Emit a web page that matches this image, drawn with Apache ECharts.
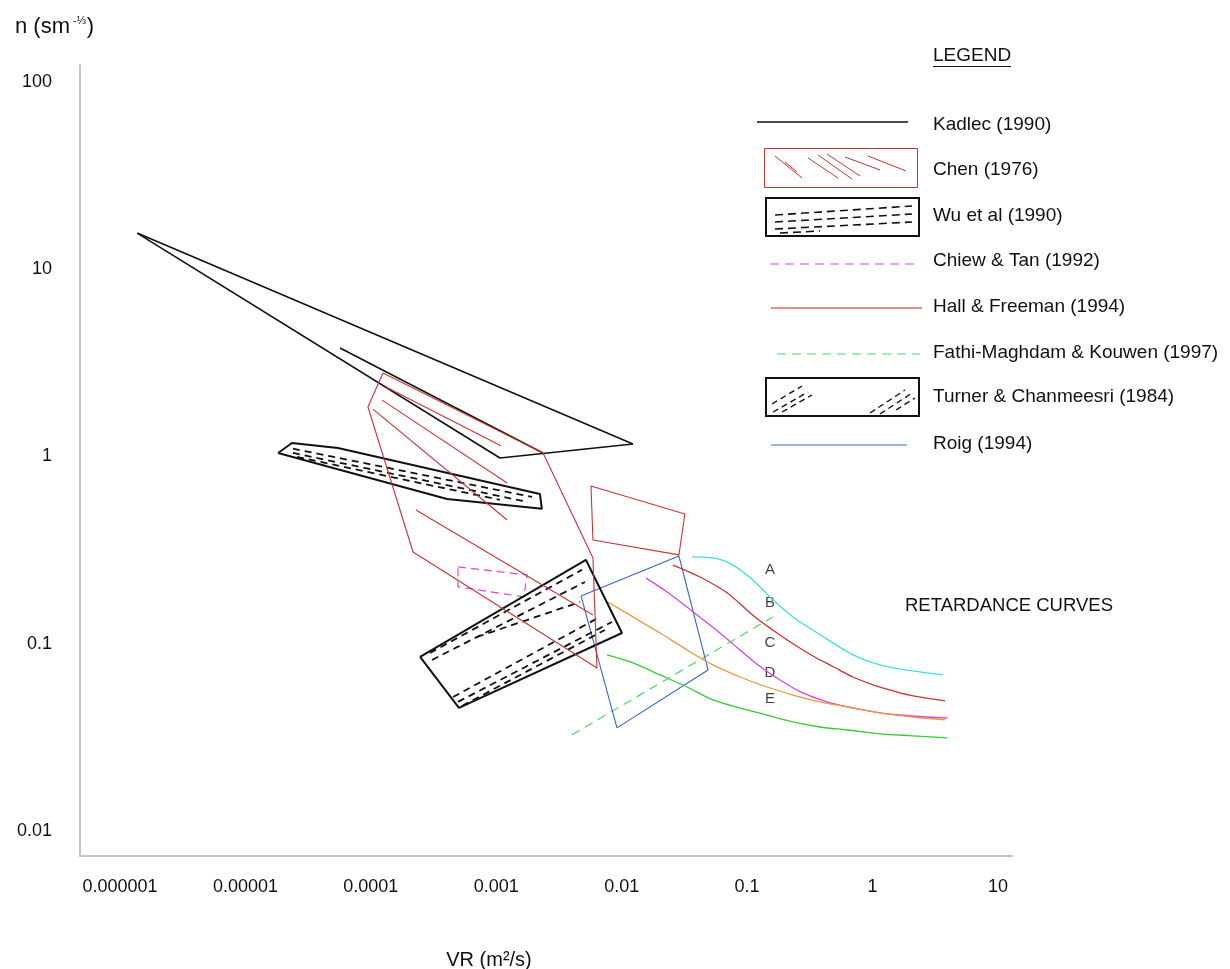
<!DOCTYPE html>
<html>
<head>
<meta charset="utf-8">
<script src="https://cdn.jsdelivr.net/npm/echarts@6/dist/echarts.min.js"></script>
<style>
html,body{margin:0;padding:0;background:#fff;}
#chart{width:1230px;height:969px;}
</style>
</head>
<body>
<div id="chart"></div>
<script>
// ---------- tick labels ----------
const X_TICK_VALUES = [1e-6, 1e-5, 1e-4, 1e-3, 1e-2, 1e-1, 1, 10];
const X_TICK_LABELS = ['0.000001', '0.00001', '0.0001', '0.001', '0.01', '0.1', '1', '10'];
const Y_TICK_VALUES = [0.01, 0.1, 1, 10, 100];
const Y_TICK_LABELS = ['0.01', '0.1', '1', '10', '100'];

// ---------- data: [VR (m2/s), n] ----------
const kadlecOutline = [[1.37e-6, 15.6], [0.0123, 1.166], [1.07e-3, 0.982], [1.37e-6, 15.6]];
const kadlecInner = [[5.68e-5, 3.80], [2.36e-3, 1.044]];

const chenOutline = [[1.25e-4, 2.79], [2.36e-3, 1.044], [5.90e-3, 0.287], [6.35e-3, 0.0742], [2.17e-4, 0.309], [9.48e-5, 1.838], [1.25e-4, 2.79]];
const chenHatch1 = [[1.32e-4, 2.35], [1.09e-3, 1.14]];
const chenHatch2 = [[1.23e-4, 2.00], [1.22e-3, 0.722]];
const chenHatch3 = [[1.04e-4, 1.79], [1.22e-3, 0.458]];
const chenBox = [[5.69e-3, 0.696], [0.0319, 0.493], [0.0286, 0.298], [5.90e-3, 0.358], [5.69e-3, 0.696]];

const hallFreeman = [[2.29e-4, 0.518], [5.90e-3, 0.1424]];

const wuOutline = [[1.82e-5, 1.044], [2.35e-5, 1.18], [5.47e-5, 1.11], [2.23e-3, 0.630], [2.31e-3, 0.525], [4.05e-4, 0.593], [1.82e-5, 1.044]];
const wuHatch1 = [[2.39e-5, 1.10], [1.93e-3, 0.608]];
const wuHatch2 = [[2.39e-5, 1.044], [1.79e-3, 0.571]];
const wuHatch3 = [[2.58e-5, 0.994], [1.07e-3, 0.586]];

const chiewTan = [[4.95e-4, 0.257], [1.76e-3, 0.233], [1.66e-3, 0.178], [4.95e-4, 0.201], [4.95e-4, 0.257]];

const turnerOutline = [[2.47e-4, 0.0850], [5.19e-3, 0.280], [0.01005, 0.1141], [5.04e-4, 0.0454], [2.47e-4, 0.0850]];
const turnerHatchU1 = [[2.96e-4, 0.0892], [4.82e-3, 0.248]];
const turnerHatchU2 = [[3.07e-4, 0.0819], [5.10e-3, 0.2137]];
const turnerHatchU3 = [[7.02e-4, 0.1086], [4.65e-3, 0.167]];
const turnerHatchL1 = [[4.52e-4, 0.0519], [6.71e-3, 0.139]];
const turnerHatchL2 = [[4.95e-4, 0.0489], [8.37e-3, 0.1307]];
const turnerHatchL3 = [[5.33e-4, 0.0465], [7.35e-3, 0.1184]];

const fathiMaghdam = [[4.01e-3, 0.0326], [0.1607, 0.139]];

const roig = [[4.74e-3, 0.180], [0.0286, 0.294], [0.0488, 0.0724], [9.17e-3, 0.0355], [4.74e-3, 0.180]];

const curveA = [[0.0363, 0.291], [0.0534, 0.287], [0.0771, 0.263], [0.111, 0.219], [0.161, 0.171], [0.232, 0.139], [0.335, 0.118], [0.484, 0.101], [0.698, 0.0871], [1.01, 0.0789], [1.46, 0.0742], [2.10, 0.0715], [3.64, 0.0681]];
const curveB = [[0.0256, 0.263], [0.0421, 0.227], [0.0691, 0.187], [0.111, 0.142], [0.161, 0.118], [0.232, 0.100], [0.335, 0.086], [0.484, 0.0755], [0.698, 0.0664], [1.01, 0.0602], [1.46, 0.0559], [2.10, 0.0526], [3.78, 0.0495]];
const curveC = [[0.0156, 0.224], [0.0230, 0.189], [0.0370, 0.148], [0.0607, 0.114], [0.0877, 0.0926], [0.127, 0.0755], [0.183, 0.0640], [0.264, 0.0555], [0.433, 0.0489], [0.698, 0.0454], [1.146, 0.0427], [2.10, 0.0411], [3.92, 0.0401]];
const curveD = [[0.00777, 0.167], [0.0123, 0.139], [0.0202, 0.114], [0.0332, 0.0926], [0.0534, 0.0770], [0.0877, 0.0664], [0.144, 0.0587], [0.232, 0.0532], [0.381, 0.0489], [0.625, 0.0460], [1.146, 0.0427], [2.10, 0.0406], [3.78, 0.0392]];
const curveE = [[0.00763, 0.0871], [0.0123, 0.0789], [0.0202, 0.0681], [0.0332, 0.0587], [0.0534, 0.0501], [0.0877, 0.0454], [0.144, 0.0416], [0.232, 0.0382], [0.381, 0.0359], [0.625, 0.0346], [1.146, 0.0330], [2.10, 0.0322], [3.92, 0.0314]];
const curveLabels = [[0.152, 0.248, 'A'], [0.152, 0.165, 'B'], [0.152, 0.1009, 'C'], [0.152, 0.0698, 'D'], [0.152, 0.0507, 'E']];

// ---------- helpers ----------
const FONT = '"Liberation Sans", Arial, sans-serif';
function seg(name, pts, color, width, type, z, smooth) {
  return {
    type: 'line', name: name, data: pts, showSymbol: false, symbol: 'none',
    smooth: smooth || false,
    silent: true, animation: false, z: z || 2,
    lineStyle: { color: color, width: width, type: type || 'solid', cap: 'butt' }
  };
}
function fmt(values, labels) {
  return function (v) {
    for (let i = 0; i < values.length; i++) {
      if (Math.abs(Math.log10(v) - Math.log10(values[i])) < 0.01) return labels[i];
    }
    return '';
  };
}

const BLACK = '#111111';
const CHEN = '#cc3333';
const HALL = '#e06666';
const MAG = '#dd44dd';
const GREEN_D = '#44dd66';
const BLUE = '#3366cc';
const HATCH_DASH = [7, 5];

const series = [
  seg('Kadlec (1990)', kadlecOutline, BLACK, 1.6, 'solid', 5),
  seg('Kadlec inner', kadlecInner, BLACK, 1.6, 'solid', 5),
  seg('Chen (1976)', chenOutline, CHEN, 1.1, 'solid', 6),
  seg('Chen h1', chenHatch1, CHEN, 1.1, 'solid', 6),
  seg('Chen h2', chenHatch2, CHEN, 1.1, 'solid', 6),
  seg('Chen h3', chenHatch3, CHEN, 1.1, 'solid', 6),
  seg('Chen box', chenBox, CHEN, 1.1, 'solid', 6),
  seg('Hall & Freeman (1994)', hallFreeman, CHEN, 1.1, 'solid', 6),
  seg('Wu et al (1990)', wuOutline, BLACK, 2, 'solid', 4),
  seg('Wu h1', wuHatch1, BLACK, 1.8, HATCH_DASH, 4),
  seg('Wu h2', wuHatch2, BLACK, 1.8, HATCH_DASH, 4),
  seg('Wu h3', wuHatch3, BLACK, 1.8, HATCH_DASH, 4),
  seg('Chiew & Tan (1992)', chiewTan, MAG, 1.2, [8, 5], 4),
  seg('Turner & Chanmeesri (1984)', turnerOutline, BLACK, 2, 'solid', 4),
  seg('Turner u1', turnerHatchU1, BLACK, 1.8, HATCH_DASH, 4),
  seg('Turner u2', turnerHatchU2, BLACK, 1.8, HATCH_DASH, 4),
  seg('Turner u3', turnerHatchU3, BLACK, 1.8, HATCH_DASH, 4),
  seg('Turner l1', turnerHatchL1, BLACK, 1.8, HATCH_DASH, 4),
  seg('Turner l2', turnerHatchL2, BLACK, 1.8, HATCH_DASH, 4),
  seg('Turner l3', turnerHatchL3, BLACK, 1.8, HATCH_DASH, 4),
  seg('Fathi-Maghdam & Kouwen (1997)', fathiMaghdam, GREEN_D, 1.2, [9, 6], 3),
  seg('Roig (1994)', roig, BLUE, 1.1, 'solid', 3),
  seg('A', curveA, '#44dddd', 1.3, 'solid', 3, 0.35),
  seg('B', curveB, '#cc3333', 1.3, 'solid', 3, 0.35),
  seg('C', curveC, '#dd44dd', 1.3, 'solid', 3, 0.35),
  seg('D', curveD, '#e89a3c', 1.3, 'solid', 3, 0.35),
  seg('E', curveE, '#33cc33', 1.3, 'solid', 3, 0.35),
  {
    type: 'scatter', name: 'curve labels', data: curveLabels, symbolSize: 0, silent: true, animation: false,
    label: { show: true, position: 'inside', formatter: function (p) { return p.value[2]; }, color: BLACK, fontSize: 15, fontFamily: FONT }
  }
];

// ---------- custom legend (graphic) ----------
function txt(x, y, s, size, align) {
  return { type: 'text', silent: true, style: { x: x, y: y, text: s, fill: BLACK, font: (size || 19) + 'px ' + FONT, align: align || 'left', verticalAlign: 'middle', textAlign: align || 'left', textVerticalAlign: 'middle' } };
}
function ln(x1, y1, x2, y2, color, w, dash) {
  return { type: 'line', silent: true, shape: { x1: x1, y1: y1, x2: x2, y2: y2 }, style: { stroke: color, lineWidth: w, lineDash: dash || null } };
}
function box(x, y, w, h, color, lw) {
  return { type: 'rect', silent: true, shape: { x: x, y: y, width: w, height: h }, style: { fill: 'none', stroke: color, lineWidth: lw } };
}
const TX = 933;
const graphics = [
  // axis titles
  { type: 'text', silent: true, style: { x: 15, y: 27, text: '{a|n (sm}{s|-⅓}{a|)}', verticalAlign: 'middle', textVerticalAlign: 'middle', rich: { a: { font: '22px ' + FONT, fill: BLACK }, s: { font: '11px ' + FONT, fill: BLACK, verticalAlign: 'top', padding: [0, 1, 12, 3] } } } },
  txt(489, 960, 'VR (m²/s)', 20, 'center'),
  txt(905, 606, 'RETARDANCE CURVES', 18.5),
  // legend heading
  txt(TX, 56, 'LEGEND', 19),
  ln(TX, 66.5, 1011, 66.5, BLACK, 1.2),
  // Kadlec
  ln(757, 122, 908, 122, BLACK, 1.6), txt(TX, 125, 'Kadlec (1990)'),
  // Chen
  box(764.5, 148.5, 153, 39, CHEN, 1),
  ln(775, 156, 802, 178, CHEN, 1), ln(785, 162, 797, 172, CHEN, 1),
  ln(808, 158, 838, 178, CHEN, 1), ln(818, 155, 852, 179, CHEN, 1), ln(827, 154, 860, 176, CHEN, 1),
  ln(845, 157, 880, 170, CHEN, 1), ln(868, 156, 906, 171, CHEN, 1),
  txt(TX, 170, 'Chen (1976)'),
  // Wu
  box(766, 198, 153, 38, BLACK, 2),
  ln(775, 215, 912, 206, BLACK, 1.6, [8, 5]), ln(775, 222, 912, 214, BLACK, 1.6, [8, 5]),
  ln(775, 229, 912, 222, BLACK, 1.6, [8, 5]), ln(780, 233, 820, 231, BLACK, 1.6, [8, 5]),
  txt(TX, 216, 'Wu et al (1990)'),
  // Chiew & Tan
  ln(770, 264, 917, 264, MAG, 1.2, [9, 6]), txt(TX, 261, 'Chiew & Tan (1992)'),
  // Hall & Freeman
  ln(771, 308, 922, 308, HALL, 1.6), txt(TX, 307, 'Hall & Freeman (1994)'),
  // Fathi
  ln(777, 354, 920, 354, GREEN_D, 1.2, [9, 6]), txt(TX, 353, 'Fathi-Maghdam & Kouwen (1997)'),
  // Turner
  box(766, 378, 153, 38, BLACK, 2),
  ln(772, 404, 802, 386, BLACK, 1.4, [6, 4]), ln(773, 412, 808, 392, BLACK, 1.4, [6, 4]), ln(782, 412, 812, 395, BLACK, 1.4, [6, 4]),
  ln(870, 413, 905, 390, BLACK, 1.4, [6, 4]), ln(880, 414, 912, 393, BLACK, 1.4, [6, 4]), ln(896, 410, 915, 398, BLACK, 1.4, [6, 4]),
  txt(TX, 397, 'Turner & Chanmeesri (1984)'),
  // Roig
  ln(771, 445, 907, 445, BLUE, 1.2), txt(TX, 444, 'Roig (1994)')
];

const chart = echarts.init(document.getElementById('chart'), null, { renderer: 'canvas' });
chart.setOption({
  backgroundColor: '#ffffff',
  animation: false,
  grid: { left: 80, right: 218, top: 65, bottom: 113, containLabel: false },
  xAxis: {
    type: 'log', logBase: 10,
    min: Math.pow(10, -6.319), max: Math.pow(10, 1.112),
    axisLine: { show: true, onZero: false, lineStyle: { color: '#c4c4c4', width: 2 } },
    axisTick: { show: false }, minorTick: { show: false },
    splitLine: { show: false }, minorSplitLine: { show: false },
    axisLabel: { customValues: X_TICK_VALUES, formatter: fmt(X_TICK_VALUES, X_TICK_LABELS), margin: 22, color: BLACK, fontSize: 18, fontFamily: FONT }
  },
  yAxis: {
    type: 'log', logBase: 10,
    min: Math.pow(10, -2.134), max: Math.pow(10, 2.091),
    axisLine: { show: true, onZero: false, lineStyle: { color: '#c4c4c4', width: 2 } },
    axisTick: { show: false }, minorTick: { show: false },
    splitLine: { show: false }, minorSplitLine: { show: false },
    axisLabel: { customValues: Y_TICK_VALUES, formatter: fmt(Y_TICK_VALUES, Y_TICK_LABELS), margin: 28, color: BLACK, fontSize: 18, fontFamily: FONT }
  },
  series: series,
  graphic: { elements: graphics }
});
</script>
</body>
</html>
